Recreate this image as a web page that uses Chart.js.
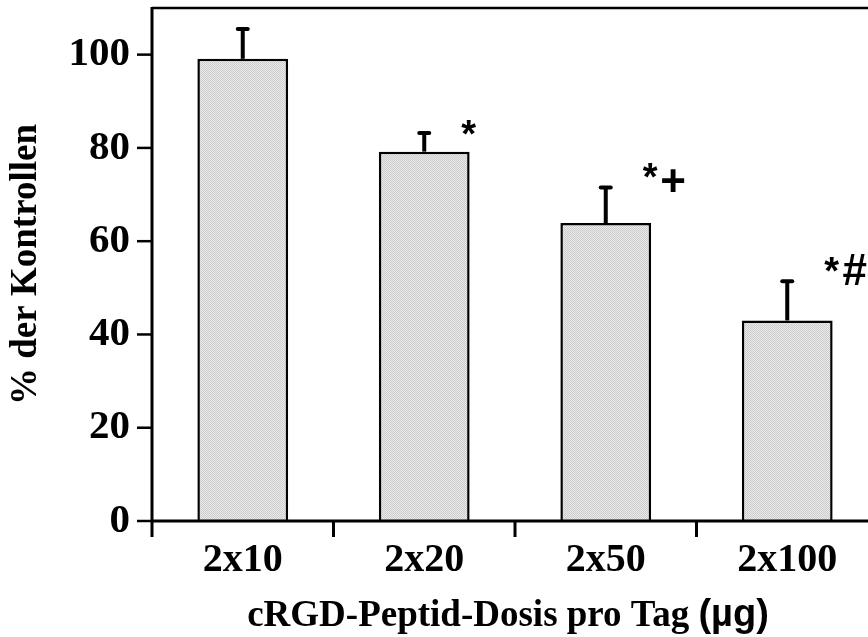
<!DOCTYPE html>
<html>
<head>
<meta charset="utf-8">
<script src="https://cdn.jsdelivr.net/npm/chart.js@4.4.1/dist/chart.umd.min.js"></script>
<style>
  html, body { margin: 0; padding: 0; background: #fff; overflow: hidden; }
  #wrap { width: 890px; height: 637px; }
</style>
</head>
<body>
<div id="wrap"><canvas id="dosisChart" width="890" height="637"></canvas></div>
<script>
// cRGD dose groups, mean % of controls and upper SD
var doses = ['2x10', '2x20', '2x50', '2x100'];
var means = [99.1, 79.2, 63.9, 43.0];
var sd = [6.4, 4.0, 7.6, 8.4];
// significance marks drawn next to the error bars
var marks = ['', '*', '*+', '*#'];
var yMax = 110;
var yStep = 10;

var serif = "'Liberation Serif', 'Times New Roman', serif";
var sans = "'Liberation Sans', Arial, sans-serif";

// checkered light grey fill for the bars
function stipple() {
    var c = document.createElement('canvas');
    c.width = 2; c.height = 2;
    var g = c.getContext('2d');
    g.fillStyle = '#e9e9e9';
    g.fillRect(0, 0, 2, 2);
    g.fillStyle = '#cdcdcd';
    g.fillRect(0, 0, 1, 1);
    g.fillRect(1, 1, 1, 1);
    return document.getElementById('dosisChart').getContext('2d').createPattern(c, 'repeat');
}

// axis lines, ticks, error bars, marks and x title
var extras = {
    id: 'extras',
    afterDatasetsDraw: function (chart) {
        var ctx = chart.ctx;
        var a = chart.chartArea;
        var xs = chart.scales.x;
        var ys = chart.scales.y;
        var meta = chart.getDatasetMeta(0);
        ctx.save();
        ctx.strokeStyle = '#000';
        ctx.fillStyle = '#000';

        // error bars (upper only)
        meta.data.forEach(function (bar, i) {
            var top = ys.getPixelForValue(means[i] + sd[i]);
            ctx.lineWidth = 4;
            ctx.lineCap = 'butt';
            ctx.beginPath();
            ctx.moveTo(bar.x, bar.y);
            ctx.lineTo(bar.x, top);
            ctx.stroke();
            ctx.lineCap = 'round';
            ctx.beginPath();
            ctx.moveTo(bar.x - 5, top);
            ctx.lineTo(bar.x + 5, top);
            ctx.stroke();
        });

        // frame: left axis, top line, bottom axis
        ctx.lineCap = 'butt';
        ctx.lineWidth = 3;
        ctx.beginPath();
        ctx.moveTo(a.left, a.top - 1);
        ctx.lineTo(a.left, a.bottom + 1);
        ctx.moveTo(a.left, a.bottom);
        ctx.lineTo(chart.width, a.bottom);
        ctx.stroke();
        ctx.lineWidth = 2.5;
        ctx.beginPath();
        ctx.moveTo(a.left, a.top);
        ctx.lineTo(chart.width, a.top);
        ctx.stroke();

        // y ticks: long at labelled values, short in between
        ctx.lineWidth = 2.5;
        ys.ticks.forEach(function (t) {
            var y = ys.getPixelForValue(t.value);
            var len = (t.value % 20 === 0) ? 15 : 9;
            ctx.beginPath();
            ctx.moveTo(a.left - len, y);
            ctx.lineTo(a.left, y);
            ctx.stroke();
        });

        // x ticks at the borders between dose groups
        var step = xs.getPixelForValue(1) - xs.getPixelForValue(0);
        ctx.lineWidth = 3;
        for (var i = 0; i < doses.length; i++) {
            var x = xs.getPixelForValue(i) - step / 2;
            ctx.beginPath();
            ctx.moveTo(x, a.bottom);
            ctx.lineTo(x, a.bottom + 16);
            ctx.stroke();
        }

        // significance marks
        ctx.textAlign = 'center';
        ctx.textBaseline = 'middle';
        meta.data.forEach(function (bar, i) {
            var m = marks[i];
            if (!m) return;
            var top = ys.getPixelForValue(means[i] + sd[i]);
            var sx = bar.x + bar.width / 2 - 1;
            var star = m.charAt(0);
            var sym = m.slice(1);
            ctx.font = 'bold 38px ' + sans;
            ctx.fillText(star, sx, top + (sym ? -8 : 4));
            if (sym) {
                ctx.font = 'bold 44px ' + sans;
                ctx.fillText(sym, sx + 23, top - (sym === '#' ? 8 : 4));
            }
        });

        // x axis title, unit in sans
        var t1 = 'cRGD-Peptid-Dosis pro Tag ';
        var t2 = '(\u00b5g)';
        var f1 = 'bold 37px ' + serif;
        var f2 = 'bold 38px ' + sans;
        ctx.font = f1;
        var w1 = ctx.measureText(t1).width;
        ctx.font = f2;
        var w2 = ctx.measureText(t2).width;
        var cx = 508;
        var x0 = cx - (w1 + w2) / 2;
        ctx.textAlign = 'left';
        ctx.textBaseline = 'alphabetic';
        ctx.font = f1;
        ctx.fillText(t1, x0, 626);
        ctx.font = f2;
        ctx.fillText(t2, x0 + w1, 626);
        ctx.restore();
    }
};

var ctx = document.getElementById('dosisChart').getContext('2d');
var dosisChart = new Chart(ctx, {
    type: 'bar',
    data: {
        labels: doses,
        datasets: [{
            label: '% der Kontrollen',
            data: means,
            backgroundColor: stipple(),
            borderColor: '#000',
            borderWidth: 2.5,
            categoryPercentage: 1.0,
            barPercentage: 0.5
        }]
    },
    options: {
        responsive: false,
        animation: false,
        events: [],
        layout: { autoPadding: false, padding: { left: 0, right: 12, top: 8, bottom: 0 } },
        plugins: {
            legend: { display: false },
            tooltip: { enabled: false }
        },
        scales: {
            x: {
                grid: { display: false, drawTicks: false },
                border: { display: false },
                ticks: {
                    color: '#000',
                    padding: 16,
                    maxRotation: 0,
                    font: { family: serif, size: 40, weight: 'bold' }
                },
                afterFit: function (s) {
                    s.height = 116;
                    s.paddingLeft = 0;
                    s.paddingRight = 0;
                }
            },
            y: {
                min: 0,
                max: yMax,
                grid: { display: false, drawTicks: false },
                border: { display: false },
                ticks: {
                    stepSize: yStep,
                    color: '#000',
                    padding: 22,
                    font: { family: serif, size: 41, weight: 'bold' },
                    callback: function (v) { return v % 20 === 0 ? v : ''; }
                },
                title: {
                    display: true,
                    text: '% der Kontrollen',
                    color: '#000',
                    padding: { top: 4, bottom: 0 },
                    font: { family: serif, size: 37, weight: 'bold' }
                },
                afterFit: function (s) {
                    s.width = 152;
                    s.paddingTop = 0;
                    s.paddingBottom = 0;
                }
            }
        }
    },
    plugins: [extras]
});
</script>
</body>
</html>
